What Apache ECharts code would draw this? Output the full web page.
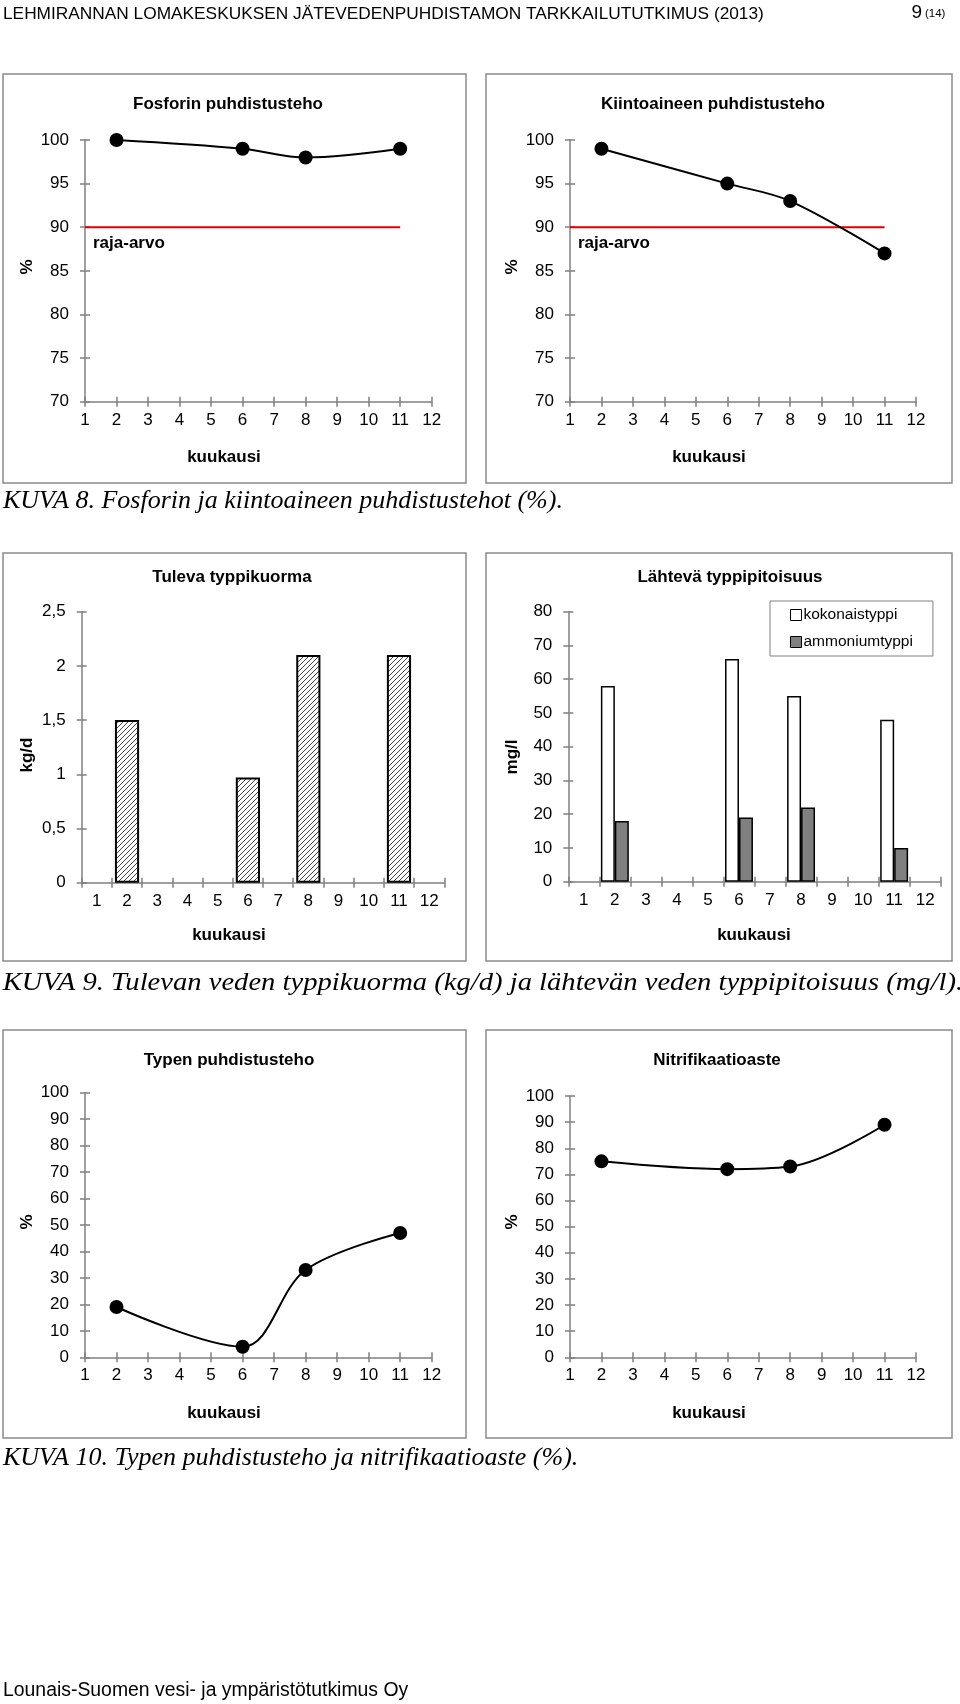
<!DOCTYPE html>
<html><head><meta charset="utf-8">
<script src="https://cdn.jsdelivr.net/npm/echarts@6/dist/echarts.min.js"></script>
<style>html,body{margin:0;padding:0;background:#fff}#c{width:960px;height:1704px}</style>
</head><body><div id="c"></div>
<script>
// ---- data ----
const monthLabels = ['1','2','3','4','5','6','7','8','9','10','11','12'];
const sampleMonths = [2, 6, 8, 11];
const fosforiEff = [100, 99, 98, 99];
const kiintoEff = [99, 95, 93, 87];
const limitValue = 90;
const limitMonths = [1, 11];
const tulevaN = [1.5, 0.97, 2.1, 2.1];
const kokonaisN = [58, 66, 55, 48];
const ammoniumN = [18, 19, 22, 10];
const typenEff = [19, 4, 33, 47];
const nitrifEff = [75, 72, 73, 89];

// ---- style ----
const AX = '#808080';
const SANS = '"Liberation Sans", Arial, sans-serif';
const SERIF = '"Liberation Serif", "Times New Roman", serif';
const comma = v => String(v).replace('.', ',');

const grids = [
  {left: 85, top: 140, width: 346.7, height: 261.7},
  {left: 570, top: 140, width: 346, height: 261.7},
  {left: 81.7, top: 611.7, width: 362.6, height: 271},
  {left: 568.3, top: 611.7, width: 372.4, height: 270},
  {left: 85, top: 1092.7, width: 346.7, height: 264.6},
  {left: 570, top: 1096, width: 346, height: 261.3}
];

const xAxes = [], yAxes = [];
function tick(inside){ return {show:true, inside:inside, length:5, lineStyle:{color:AX, width:1.5}}; }
const lbl = {color:'#000', fontSize:17, fontFamily:SANS};
function addValueX(g){
  const base = {type:'value', gridIndex:g, min:1, max:12, interval:1, position:'bottom', splitLine:{show:false}};
  xAxes.push(Object.assign({}, base, {axisLine:{onZero:false, lineStyle:{color:AX, width:1.5}}, axisTick:tick(false), axisLabel:Object.assign({margin:10}, lbl)}));
  xAxes.push(Object.assign({}, base, {axisLine:{show:false}, axisTick:tick(true), axisLabel:{show:false}}));
  return xAxes.length - 2;
}
function addCatX(g){
  const base = {type:'category', gridIndex:g, data:monthLabels, boundaryGap:true, position:'bottom', splitLine:{show:false}};
  xAxes.push(Object.assign({}, base, {axisLine:{onZero:false, lineStyle:{color:AX, width:1.5}}, axisTick:tick(false), axisLabel:Object.assign({margin:10, interval:0}, lbl)}));
  xAxes.push(Object.assign({}, base, {axisLine:{show:false}, axisTick:tick(true), axisLabel:{show:false}}));
  return xAxes.length - 2;
}
function addY(g, min, max, interval, fmt){
  const base = {type:'value', gridIndex:g, min:min, max:max, interval:interval, position:'left', splitLine:{show:false}};
  yAxes.push(Object.assign({}, base, {axisLine:{show:true, onZero:false, lineStyle:{color:AX, width:1.5}}, axisTick:tick(false), axisLabel:Object.assign({margin:16, formatter: fmt || (v => String(v))}, lbl)}));
  yAxes.push(Object.assign({}, base, {axisLine:{show:false}, axisTick:tick(true), axisLabel:{show:false}}));
  return yAxes.length - 2;
}
const pairs = (ms, vs) => ms.map((m, i) => [m, vs[i]]);
const monthly = vs => monthLabels.map(l => { const k = sampleMonths.indexOf(+l); return k < 0 ? null : vs[k]; });

function lineSeries(x, y, vals){
  return {type:'line', xAxisIndex:x, yAxisIndex:y, data:pairs(sampleMonths, vals), smooth:0.35,
    symbol:'circle', symbolSize:14, lineStyle:{color:'#000', width:2}, itemStyle:{color:'#000'}, z:5, animation:false};
}
function limitSeries(x, y){
  return {type:'line', xAxisIndex:x, yAxisIndex:y, data:limitMonths.map(m => [m, limitValue]), symbol:'none',
    lineStyle:{color:'#e00000', width:2}, z:3, animation:false};
}

// hatch pattern
const hc = document.createElement('canvas'); hc.width = 5; hc.height = 5;
const hx = hc.getContext('2d');
hx.fillStyle = '#fff'; hx.fillRect(0, 0, 5, 5);
hx.strokeStyle = '#444'; hx.lineWidth = 1;
hx.beginPath(); hx.moveTo(-1, 6); hx.lineTo(6, -1); hx.moveTo(-1, 1); hx.lineTo(1, -1); hx.moveTo(4, 6); hx.lineTo(6, 4); hx.stroke();

const series = [];
// panel 1
let x = addValueX(0), y = addY(0, 70, 100, 5);
series.push(limitSeries(x, y), lineSeries(x, y, fosforiEff));
// panel 2
x = addValueX(1); y = addY(1, 70, 100, 5);
series.push(limitSeries(x, y), lineSeries(x, y, kiintoEff));
// panel 3
x = addCatX(2); y = addY(2, 0, 2.5, 0.5, comma);
series.push({type:'bar', name:'Tuleva typpikuorma', xAxisIndex:x, yAxisIndex:y, data:monthly(tulevaN), barCategoryGap:'20%',
  itemStyle:{color:{image:hc, repeat:'repeat'}, borderColor:'#000', borderWidth:2}, animation:false});
// panel 4
x = addCatX(3); y = addY(3, 0, 80, 10);
series.push({type:'bar', name:'kokonaistyppi', xAxisIndex:x, yAxisIndex:y, data:monthly(kokonaisN), barGap:'0%', barCategoryGap:'10%',
  itemStyle:{color:'#fff', borderColor:'#000', borderWidth:1.5}, animation:false});
series.push({type:'bar', name:'ammoniumtyppi', xAxisIndex:x, yAxisIndex:y, data:monthly(ammoniumN), barGap:'0%', barCategoryGap:'10%',
  itemStyle:{color:'#808080', borderColor:'#000', borderWidth:1.5}, animation:false});
// panel 5
x = addValueX(4); y = addY(4, 0, 100, 10);
series.push(lineSeries(x, y, typenEff));
// panel 6
x = addValueX(5); y = addY(5, 0, 100, 10);
series.push(lineSeries(x, y, nitrifEff));

// ---- texts / frames ----
const G = [];
function txt(t, x, y, o){ G.push(Object.assign({type:'text', x:x, y:y, style:Object.assign({text:t, fill:'#000', font:'17px ' + SANS, textAlign:'left', textVerticalAlign:'middle'}, (o && o.style) || {})}, o && o.extra || {})); }
function box(x, y, w, h){ G.push({type:'rect', shape:{x:x, y:y, width:w, height:h}, style:{fill:'none', stroke:'#8a8a8a', lineWidth:1.5}, z:-1}); }
const B = 'bold 17px ' + SANS;
txt('LEHMIRANNAN LOMAKESKUKSEN JÄTEVEDENPUHDISTAMON TARKKAILUTUTKIMUS (2013)', 3, 14, {style:{font:'17.3px ' + SANS}});
txt('9', 922, 13, {style:{font:'19px ' + SANS, textAlign:'right'}});
txt('(14)', 925, 14, {style:{font:'11.5px ' + SANS}});

box(3, 74, 463, 409); box(486, 74, 466, 409);
box(3, 553, 463, 408); box(486, 553, 466, 408);
box(3, 1030, 463, 408); box(486, 1030, 466, 408);

// panel titles
txt('Fosforin puhdistusteho', 228, 104, {style:{font:B, textAlign:'center'}});
txt('Kiintoaineen puhdistusteho', 713, 104, {style:{font:B, textAlign:'center'}});
txt('Tuleva typpikuorma', 232, 577, {style:{font:B, textAlign:'center'}});
txt('Lähtevä typpipitoisuus', 730, 577, {style:{font:B, textAlign:'center'}});
txt('Typen puhdistusteho', 229, 1060, {style:{font:B, textAlign:'center'}});
txt('Nitrifikaatioaste', 717, 1060, {style:{font:B, textAlign:'center'}});

// x axis names
[[224, 457], [709, 457], [229, 935], [754, 935], [224, 1413], [709, 1413]].forEach(p => txt('kuukausi', p[0], p[1], {style:{font:B, textAlign:'center'}}));
// y axis names (rotated)
[['%', 27, 267], ['%', 512, 267], ['kg/d', 27, 755], ['mg/l', 512, 757], ['%', 27, 1222], ['%', 512, 1222]].forEach(p =>
  txt(p[0], p[1], p[2], {style:{font:B, textAlign:'center'}, extra:{rotation:Math.PI / 2}}));
// limit labels
txt('raja-arvo', 93, 243, {style:{font:B}});
txt('raja-arvo', 578, 243, {style:{font:B}});

// captions
const CAP = 'italic 26px ' + SERIF;
txt('KUVA 8. Fosforin ja kiintoaineen puhdistustehot (%).', 3, 501, {style:{font:CAP}});
txt('KUVA 9. Tulevan veden typpikuorma (kg/d) ja lähtevän veden typpipitoisuus (mg/l).', 3, 983, {style:{font:CAP}, extra:{scaleX:1.1, originX:3, originY:983}});
txt('KUVA 10. Typen puhdistusteho ja nitrifikaatioaste (%).', 3, 1458, {style:{font:CAP}});
// footer
txt('Lounais-Suomen vesi- ja ympäristötutkimus Oy', 3, 1691, {style:{font:'19.4px ' + SANS}});

const chart = echarts.init(document.getElementById('c'), null, {renderer:'canvas'});
chart.setOption({
  animation:false,
  backgroundColor:'#fff',
  grid:grids,
  xAxis:xAxes,
  yAxis:yAxes,
  legend:{show:true, orient:'vertical', left:770, top:601, padding:[6, 20, 6, 20], itemGap:11,
    borderColor:'#808080', borderWidth:1, borderRadius:0, backgroundColor:'#fff',
    itemWidth:11, itemHeight:11, icon:'rect', itemStyle:{borderColor:'#000', borderWidth:1},
    textStyle:{color:'#000', fontSize:15.5, fontFamily:SANS, padding:[0,0,0,-3]},
    data:['kokonaistyppi', 'ammoniumtyppi'], selectedMode:false},
  tooltip:{show:false},
  series:series,
  graphic:G
});
</script></body></html>
